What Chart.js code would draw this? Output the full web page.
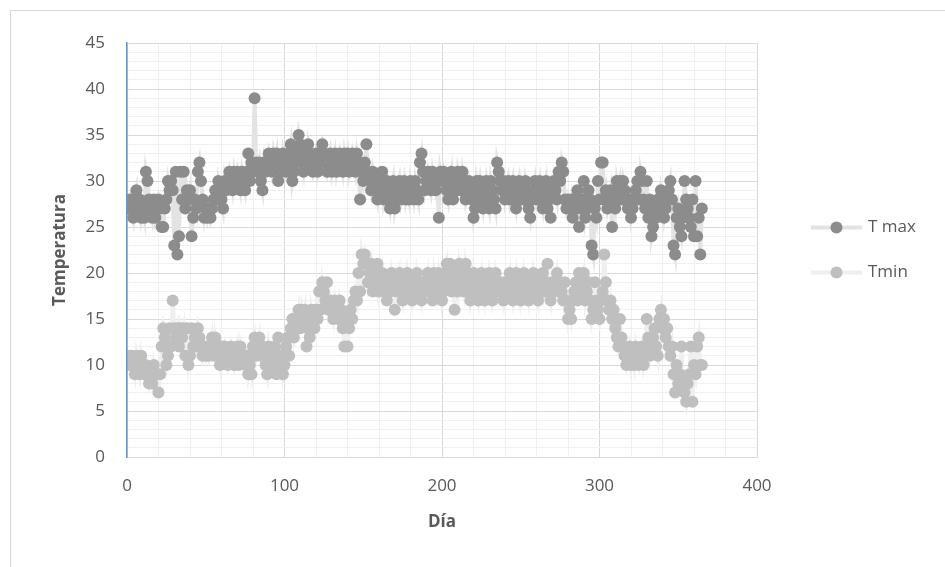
<!DOCTYPE html>
<html>
<head>
<meta charset="utf-8">
<script src="https://cdn.jsdelivr.net/npm/chart.js@4.4.0/dist/chart.umd.min.js"></script>
<style>
  body { margin: 0; background: #fff; }
  #frame { position: absolute; left: 10px; top: 10px; width: 1000px; height: 1000px; border: 1px solid #d9d9d9; }
  #chart { position: absolute; left: 0; top: 0; }
</style>
</head>
<body>
<div id="frame"></div>
<canvas id="chart" width="945" height="567"></canvas>
<script>
// daily temperatures, day 1..365
var tMax = [
  27, 28, 27, 26, 28, 29, 27, 28, 26, 27,
  26, 31, 30, 28, 27, 26, 28, 26, 27, 28,
  27, 25, 25, 27, 28, 30, 29, 30, 29, 23,
  31, 22, 24, 31, 28, 31, 27, 29, 28, 29,
  24, 26, 28, 27, 31, 32, 30, 28, 26, 27,
  26, 27, 26, 27, 28, 29, 28, 30, 29, 28,
  27, 30, 29, 30, 31, 30, 29, 31, 30, 31,
  30, 29, 31, 30, 29, 31, 33, 30, 32, 31,
  39, 32, 31, 32, 30, 29, 32, 31, 32, 33,
  32, 31, 33, 32, 33, 30, 32, 31, 33, 32,
  31, 32, 33, 34, 30, 31, 32, 33, 35, 34,
  32, 31, 33, 32, 34, 33, 32, 31, 32, 33,
  31, 32, 33, 34, 33, 32, 31, 32, 33, 31,
  32, 33, 31, 32, 33, 32, 31, 33, 32, 33,
  31, 32, 33, 32, 31, 33, 32, 28, 31, 30,
  32, 34, 31, 30, 29, 31, 30, 29, 28, 30,
  29, 31, 28, 29, 30, 28, 27, 29, 30, 27,
  28, 29, 30, 28, 29, 30, 28, 29, 28, 30,
  29, 28, 30, 29, 28, 32, 33, 31, 29, 30,
  31, 30, 29, 31, 30, 29, 30, 26, 31, 30,
  31, 30, 29, 28, 30, 31, 28, 30, 29, 31,
  30, 29, 31, 30, 28, 29, 30, 29, 28, 26,
  27, 30, 29, 30, 28, 27, 29, 30, 28, 27,
  30, 29, 28, 27, 32, 31, 30, 29, 30, 28,
  29, 30, 28, 29, 30, 28, 27, 29, 30, 28,
  29, 28, 30, 29, 27, 26, 28, 29, 30, 28,
  29, 30, 28, 27, 29, 30, 27, 28, 26, 29,
  30, 29, 28, 31, 30, 32, 31, 28, 27, 28,
  27, 28, 26, 28, 27, 29, 25, 27, 28, 30,
  26, 27, 29, 28, 23, 22, 27, 26, 30, 28,
  32, 32, 28, 29, 27, 28, 29, 25, 28, 27,
  30, 29, 30, 28, 30, 29, 28, 27, 28, 26,
  27, 28, 29, 30, 28, 31, 30, 28, 27, 30,
  26, 28, 24, 25, 27, 26, 28, 27, 29, 28,
  26, 27, 28, 29, 30, 28, 23, 22, 26, 27,
  25, 24, 26, 30, 28, 27, 26, 25, 28, 24,
  30, 24, 26, 22, 27
];
var tMin = [
  10, 11, 11, 10, 9, 11, 10, 9, 11, 10,
  9, 10, 9, 8, 9, 8, 10, 9, 9, 7,
  9, 12, 14, 13, 10, 11, 14, 12, 17, 14,
  13, 14, 12, 14, 13, 14, 11, 14, 10, 11,
  14, 12, 13, 12, 14, 13, 12, 11, 12, 11,
  12, 11, 12, 13, 11, 13, 12, 11, 10, 12,
  11, 12, 11, 10, 11, 12, 11, 10, 11, 12,
  10, 12, 11, 11, 10, 11, 9, 10, 9, 12,
  13, 11, 12, 13, 11, 12, 11, 10, 9, 12,
  11, 10, 11, 12, 9, 13, 10, 11, 9, 10,
  12, 13, 11, 14, 15, 13, 14, 15, 16, 14,
  16, 15, 16, 12, 14, 13, 16, 15, 14, 16,
  15, 18, 16, 19, 18, 17, 19, 16, 17, 16,
  15, 17, 16, 15, 17, 16, 14, 12, 15, 12,
  14, 16, 15, 17, 18, 17, 20, 18, 22, 21,
  22, 21, 19, 20, 21, 18, 20, 19, 21, 18,
  19, 20, 18, 19, 17, 19, 18, 20, 19, 16,
  18, 19, 20, 18, 17, 19, 18, 20, 19, 18,
  17, 19, 18, 20, 19, 18, 17, 19, 18, 19,
  20, 18, 19, 17, 20, 19, 18, 20, 19, 17,
  18, 20, 21, 19, 21, 18, 20, 16, 19, 18,
  21, 20, 19, 18, 21, 20, 19, 17, 18, 20,
  19, 18, 17, 19, 20, 18, 17, 19, 18, 20,
  19, 17, 18, 20, 19, 18, 19, 18, 17, 19,
  18, 19, 20, 18, 17, 19, 20, 18, 19, 17,
  18, 20, 19, 18, 17, 19, 18, 20, 19, 18,
  17, 19, 18, 20, 18, 19, 21, 18, 17, 19,
  18, 19, 20, 18, 19, 18, 17, 19, 17, 15,
  16, 15, 17, 18, 19, 17, 20, 18, 19, 20,
  17, 18, 19, 17, 15, 16, 19, 17, 16, 15,
  17, 18, 22, 19, 17, 16, 17, 15, 16, 14,
  13, 12, 15, 13, 12, 11, 10, 11, 12, 10,
  11, 10, 12, 11, 10, 11, 12, 10, 11, 15,
  13, 11, 12, 13, 14, 12, 11, 15, 16, 14,
  15, 13, 14, 12, 11, 12, 9, 7, 10, 8,
  9, 12, 8, 7, 6, 8, 9, 12, 6, 10,
  9, 12, 13, 10, 10
];
var seriesNames = ['T max', 'Tmin'];
var xTicks = [0, 100, 200, 300, 400];
var yTicks = [0, 5, 10, 15, 20, 25, 30, 35, 40, 45];

var txt = '#595959';
var fontFam = '"Open Sans", "Noto Sans", sans-serif';

function toPoints(arr) {
  return arr.map(function (v, i) { return { x: i + 1, y: v }; });
}

// legend drawn by hand: short line with a marker in the middle, like the office legend
var sideLegend = {
  id: 'sideLegend',
  afterDraw: function (chart) {
    var ctx = chart.ctx, area = chart.chartArea;
    var x0 = area.right + 54, x1 = x0 + 51;
    var mid = (area.top + area.bottom) / 2;
    var gap = 45;
    chart.data.datasets.forEach(function (ds, i) {
      var y = mid - gap / 2 + i * gap;
      ctx.save();
      ctx.strokeStyle = ds.borderColor;
      ctx.lineWidth = ds.borderWidth;
      ctx.beginPath();
      ctx.moveTo(x0, y);
      ctx.lineTo(x1, y);
      ctx.stroke();
      ctx.fillStyle = ds.pointBackgroundColor;
      ctx.beginPath();
      ctx.arc((x0 + x1) / 2, y, ds.pointRadius, 0, Math.PI * 2);
      ctx.fill();
      ctx.fillStyle = txt;
      ctx.font = '17px ' + fontFam;
      ctx.textBaseline = 'middle';
      ctx.textAlign = 'left';
      ctx.fillText(ds.label, x1 + 6, y);
      ctx.restore();
    });
  }
};

new Chart(document.getElementById('chart'), {
  type: 'scatter',
  data: {
    datasets: [
      {
        label: seriesNames[0],
        data: toPoints(tMax),
        showLine: true,
        borderColor: '#e3e3e3',
        borderWidth: 4,
        pointRadius: 6,
        pointBorderWidth: 0,
        pointBackgroundColor: '#8c8c8c',
        order: 2
      },
      {
        label: seriesNames[1],
        data: toPoints(tMin),
        showLine: true,
        borderColor: '#efefef',
        borderWidth: 4,
        pointRadius: 6,
        pointBorderWidth: 0,
        pointBackgroundColor: '#bfbfbf',
        order: 1
      }
    ]
  },
  options: {
    responsive: false,
    animation: false,
    layout: { padding: { top: 43, right: 188, left: 0, bottom: 0 } },
    plugins: { legend: { display: false }, tooltip: { enabled: false } },
    scales: {
      x: {
        type: 'linear',
        min: xTicks[0],
        max: xTicks[xTicks.length - 1],
        afterFit: function (s) { s.height = 110; },
        ticks: {
          stepSize: 20,
          autoSkip: false,
          maxRotation: 0,
          padding: 19,
          color: txt,
          font: { family: fontFam, size: 17 },
          callback: function (v) { return xTicks.indexOf(v) >= 0 ? v : ''; }
        },
        grid: {
          drawTicks: false,
          color: function (c) { return xTicks.indexOf(c.tick.value) >= 0 ? '#d9d9d9' : '#f0f0f0'; }
        },
        border: { color: '#d9d9d9' },
        title: {
          display: true,
          text: 'Día',
          color: txt,
          font: { family: fontFam, size: 17, weight: 'bold' },
          padding: { top: 0, bottom: 35 }
        }
      },
      y: {
        min: yTicks[0],
        max: yTicks[yTicks.length - 1],
        afterFit: function (s) { s.width = 127; },
        ticks: {
          stepSize: 1,
          autoSkip: false,
          padding: 22,
          color: txt,
          font: { family: fontFam, size: 17 },
          callback: function (v) { return yTicks.indexOf(v) >= 0 ? v : ''; }
        },
        grid: {
          drawTicks: false,
          color: function (c) { return yTicks.indexOf(c.tick.value) >= 0 ? '#d9d9d9' : '#f0f0f0'; }
        },
        border: { color: '#5b9bd5', width: 1.5, z: 1 },
        title: {
          display: true,
          text: 'Temperatura',
          color: txt,
          font: { family: fontFam, size: 17, weight: 'bold' },
          padding: { top: 50, bottom: 0 }
        }
      }
    }
  },
  plugins: [sideLegend]
});
</script>
</body>
</html>
